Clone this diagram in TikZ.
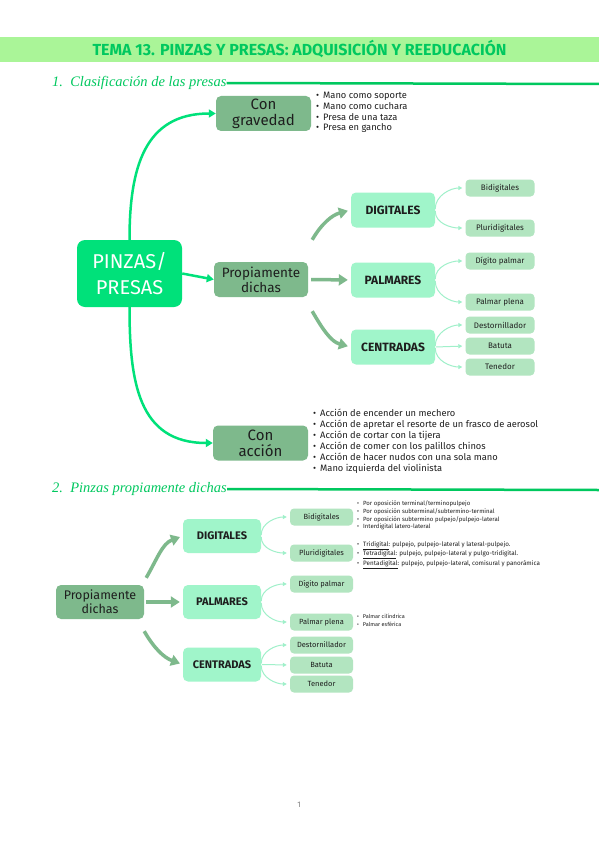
\documentclass[tikz,border=0pt]{standalone}
\usepackage{fontspec}
\setmainfont{Fira Sans}
\newfontfamily\headfont{Liberation Serif}
\usetikzlibrary{positioning, arrows.meta}
\definecolor{bandgreen}{RGB}{170,245,152}
\definecolor{titlegreen}{RGB}{0,200,95}
\definecolor{pinzagreen}{RGB}{0,225,122}
\definecolor{sage}{RGB}{126,185,140}
\definecolor{mint}{RGB}{160,245,202}
\definecolor{leaf}{RGB}{178,229,192}
\definecolor{thinline}{RGB}{160,240,202}
\definecolor{inkdark}{RGB}{30,30,30}
\tikzset{
    root/.style={rectangle, rounded corners=8pt, fill=pinzagreen, text=white, align=center, inner sep=0pt, minimum width=105pt, minimum height=67pt, font=\fontsize{20}{26}\selectfont},
    branch/.style={rectangle, rounded corners=5pt, fill=sage, text=inkdark, align=center, inner sep=0pt, minimum width=95pt, minimum height=35pt, font=\fontsize{15}{16}\selectfont},
    kind/.style={rectangle, rounded corners=5pt, fill=mint, text=inkdark, inner sep=0pt, minimum width=84pt, minimum height=35pt, font=\bfseries\fontsize{12}{14}\selectfont},
    leafbox/.style={rectangle, rounded corners=4pt, fill=leaf, text=inkdark, inner sep=0pt, minimum width=69pt, minimum height=17pt, font=\fontsize{8}{9}\selectfont},
    bullets/.style={anchor=north west, align=left, inner sep=0pt, text=inkdark},
    heading/.style={anchor=west, inner sep=0pt, text=titlegreen, font=\headfont\itshape\fontsize{14.5}{14.5}\selectfont},
    headrule/.style={line width=2.5pt, draw=titlegreen},
    mainarrow/.style={-{Triangle[length=7pt,width=8pt]}, line width=2.5pt, draw=pinzagreen},
    sagearrow/.style={-{Triangle[length=9pt,width=11pt]}, line width=3.5pt, draw=sage, shorten >=3pt},
    thinarrow/.style={-{Triangle[length=4pt,width=4pt]}, line width=1pt, draw=thinline, shorten >=3pt, shorten <=1pt}
}
\newcommand{\bul}{\textbullet\hspace{4pt}}

\begin{document}
\begin{tikzpicture}[x=1pt, y=1pt]
    \useasboundingbox (0,0) rectangle (599,-848);
    \fill[white] (0,0) rectangle (599,-848);

    % Title band
    \fill[bandgreen] (0,-37) rectangle (599,-62);
    \node[text=titlegreen, font=\bfseries\fontsize{16}{16}\selectfont] (title) at (299.5,-49.5) {TEMA 13. PINZAS Y PRESAS: ADQUISICIÓN Y REEDUCACIÓN};

    % Section 1
    \node[heading] (sec1) at (52,-83) {1.\ \ Clasificación de las presas};
    \coordinate (sec1end) at (599,-84);
    \draw[headrule] (sec1.east) -- (sec1end);

    \node[root] (pinzas) at (129.5,-273.5) {PINZAS/\\PRESAS};
    \node[branch] (grav) at (263.5,-113.5) {Con\\gravedad};
    \node[branch, minimum width=94pt, font=\fontsize{13.5}{15}\selectfont] (prop1) at (261,-279.5) {Propiamente\\dichas};
    \node[branch] (accion) at (260.5,-443) {Con\\acción};

    \draw[mainarrow] (pinzas.north) to[out=90, in=180, looseness=1.2] (grav.west);
    \draw[mainarrow] (pinzas.east) -- (prop1.west);
    \draw[mainarrow] (pinzas.south) to[out=-90, in=180, looseness=1.2] (accion.west);

    % Bullets of section 1
    \node[bullets, font=\fontsize{9.3}{10.7}\selectfont] (gravlist) at (316,-92) {\bul Mano como soporte\\ \bul Mano como cuchara\\ \bul Presa de una taza\\ \bul Presa en gancho};
    \node[bullets, font=\fontsize{9.3}{11}\selectfont] (accionlist) at (313,-409) {\bul Acción de encender un mechero\\ \bul Acción de apretar el resorte de un frasco de aerosol\\ \bul Acción de cortar con la tijera\\ \bul Acción de comer con los palillos chinos\\ \bul Acción de hacer nudos con una sola mano\\ \bul Mano izquierda del violinista};

    % Kinds of section 1
    \node[kind] (dig1) at (393,-210) {DIGITALES};
    \node[kind] (pal1) at (393,-280) {PALMARES};
    \node[kind] (cen1) at (393,-347) {CENTRADAS};

    \draw[sagearrow] ([xshift=4pt, yshift=22pt]prop1.north east) to[out=60, in=195] (dig1.west);
    \draw[sagearrow] ([xshift=3pt]prop1.east) -- (pal1.west);
    \draw[sagearrow] ([xshift=4pt, yshift=-14pt]prop1.south east) to[out=-60, in=165] (cen1.west);

    \node[leafbox] (bidi1) at (500,-188) {Bidigitales};
    \node[leafbox] (pluri1) at (500,-228) {Pluridigitales};
    \node[leafbox] (dpal1) at (500,-261) {Dígito palmar};
    \node[leafbox] (pplena1) at (500,-302) {Palmar plena};
    \node[leafbox] (dest1) at (500,-325) {Destornillador};
    \node[leafbox] (bat1) at (500,-346) {Batuta};
    \node[leafbox] (ten1) at (500,-367) {Tenedor};

    \draw[thinarrow] (dig1.east) to[out=90, in=180] (bidi1.west);
    \draw[thinarrow] (dig1.east) to[out=-90, in=180] (pluri1.west);
    \draw[thinarrow] (pal1.east) to[out=90, in=180] (dpal1.west);
    \draw[thinarrow] (pal1.east) to[out=-90, in=180] (pplena1.west);
    \draw[thinarrow] (cen1.east) to[out=90, in=180] (dest1.west);
    \draw[thinarrow] (cen1.east) -- (bat1.west);
    \draw[thinarrow] (cen1.east) to[out=-90, in=180] (ten1.west);

    % Section 2
    \node[heading] (sec2) at (52,-489) {2.\ \ Pinzas propiamente dichas};
    \coordinate (sec2end) at (599,-490);
    \draw[headrule] (sec2.east) -- (sec2end);

    \node[branch, minimum width=88pt, minimum height=34pt, font=\fontsize{12.5}{14}\selectfont] (prop2) at (100,-602) {Propiamente\\dichas};
    \node[kind, minimum width=78pt, minimum height=34pt, font=\bfseries\fontsize{11}{13}\selectfont] (dig2) at (222,-536) {DIGITALES};
    \node[kind, minimum width=78pt, minimum height=34pt, font=\bfseries\fontsize{11}{13}\selectfont] (pal2) at (222,-602) {PALMARES};
    \node[kind, minimum width=78pt, minimum height=34pt, font=\bfseries\fontsize{11}{13}\selectfont] (cen2) at (222,-664.5) {CENTRADAS};

    \draw[sagearrow] ([xshift=2pt, yshift=7pt]prop2.north east) to[out=60, in=200] (dig2.west);
    \draw[sagearrow] ([xshift=2pt]prop2.east) -- (pal2.west);
    \draw[sagearrow] ([xshift=0pt, yshift=-12pt]prop2.south east) to[out=-60, in=160] (cen2.west);

    \node[leafbox, minimum width=63pt, font=\fontsize{7.5}{9}\selectfont] (bidi2) at (321.5,-517) {Bidigitales};
    \node[leafbox, minimum width=63pt, font=\fontsize{7.5}{9}\selectfont] (pluri2) at (321.5,-553) {Pluridigitales};
    \node[leafbox, minimum width=63pt, font=\fontsize{7.5}{9}\selectfont] (dpal2) at (321.5,-584) {Dígito palmar};
    \node[leafbox, minimum width=63pt, font=\fontsize{7.5}{9}\selectfont] (pplena2) at (321.5,-622) {Palmar plena};
    \node[leafbox, minimum width=63pt, font=\fontsize{7.5}{9}\selectfont] (dest2) at (321.5,-645) {Destornillador};
    \node[leafbox, minimum width=63pt, font=\fontsize{7.5}{9}\selectfont] (bat2) at (321.5,-665) {Batuta};
    \node[leafbox, minimum width=63pt, font=\fontsize{7.5}{9}\selectfont] (ten2) at (321.5,-684) {Tenedor};

    \draw[thinarrow] (dig2.east) to[out=90, in=180] (bidi2.west);
    \draw[thinarrow] (dig2.east) to[out=-90, in=180] (pluri2.west);
    \draw[thinarrow] (pal2.east) to[out=90, in=180] (dpal2.west);
    \draw[thinarrow] (pal2.east) to[out=-90, in=180] (pplena2.west);
    \draw[thinarrow] (cen2.east) to[out=90, in=180] (dest2.west);
    \draw[thinarrow] (cen2.east) -- (bat2.west);
    \draw[thinarrow] (cen2.east) to[out=-90, in=180] (ten2.west);

    % Bullets of section 2
    \node[bullets, font=\fontsize{6}{7.8}\selectfont] (bidilist) at (357,-500.5) {\bul Por oposición terminal/terminopulpejo\\ \bul Por oposición subterminal/subtermino-terminal\\ \bul Por oposición subtermino pulpejo/pulpejo-lateral\\ \bul Interdigital latero-lateral};
    \node[bullets, font=\fontsize{6.3}{8}\selectfont] (plurilist) at (357,-541.5) {\bul \underline{Tridigital}: pulpejo, pulpejo-lateral y lateral-pulpejo.\\ \bul \underline{Tetradigital}: pulpejo, pulpejo-lateral y pulgo-tridigital.\\ \bul \underline{Pentadigital}: pulpejo, pulpejo-lateral, comisural y panorámica};
    \node[bullets, font=\fontsize{5.5}{7.5}\selectfont] (plenalist) at (357,-614) {\bul Palmar cilíndrica\\ \bul Palmar esférica};

    % Page number
    \node[text=gray, font=\fontsize{8}{8}\selectfont] (pagenum) at (299,-805) {1};
\end{tikzpicture}
\end{document}
